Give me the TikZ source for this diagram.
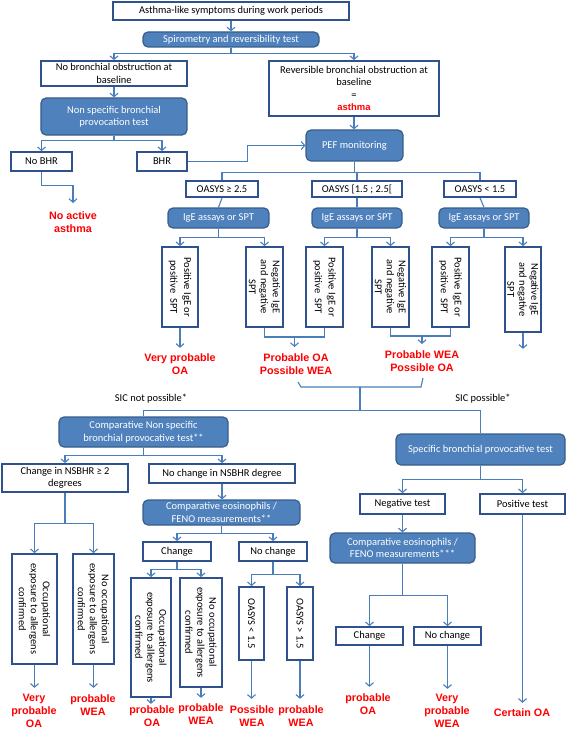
\documentclass[tikz,border=0pt]{standalone}
\usepackage{fontspec}
\setmainfont{Carlito}
\newfontfamily\labfont{Liberation Sans}
\usetikzlibrary{arrows.meta}
\definecolor{boxc}{HTML}{2F528F}
\definecolor{bline}{HTML}{385D8A}
\definecolor{bfill}{HTML}{4F81BD}
\definecolor{cline}{HTML}{4A7EBB}
\definecolor{lred}{HTML}{FF0000}
\begin{document}
\begin{tikzpicture}[x=1bp,y=-1bp,
 wbox/.style={draw=boxc, line width=1.7bp, fill=white, inner sep=0pt, align=center, font=\fontsize{10.5}{12.5}\selectfont},
 bbox/.style={draw=bline, line width=1.2bp, fill=bfill, rounded corners=5bp, inner sep=0pt, align=center, text=white, font=\fontsize{10.5}{12.5}\selectfont},
 vbox/.style={wbox, rotate=-90, font=\fontsize{10.5}{12}\selectfont},
 pvbox/.style={wbox, rotate=-90, font=\fontsize{10.5}{14}\selectfont},
 lbl/.style={inner sep=0pt, align=center, text=lred, font=\labfont\bfseries\fontsize{10.8}{13}\selectfont},
 plain/.style={inner sep=0pt, font=\fontsize{10.5}{12.5}\selectfont},
 conn/.style={draw=cline, line width=1.1bp},
 arr/.style={conn, -{Straight Barb[length=3.5bp,width=8bp]}}
]
\useasboundingbox (0,0) rectangle (567,730);

% top part
\node[wbox,minimum width=236bp,minimum height=18bp] (n1) at (231,11) {Asthma-like symptoms during work periods};
\node[bbox,minimum width=176bp,minimum height=15bp] (n2) at (231,39.5) {Spirometry and reversibility test};
\node[wbox,minimum width=146bp,minimum height=25bp] (n3) at (114,73.5) {No bronchial obstruction at\\baseline};
\node[wbox,minimum width=170bp,minimum height=55bp] (n4) at (354,88.5) {Reversible bronchial obstruction at\\baseline\\=\\{\color{lred}\labfont\bfseries\fontsize{9.5}{12.5}\selectfont asthma}};
\node[bbox,minimum width=146bp,minimum height=37bp] (n5) at (114,116.5) {Non specific bronchial\\provocation test};
\node[bbox,minimum width=97bp,minimum height=31bp] (pef) at (354.5,145.5) {PEF monitoring};
\node[wbox,minimum width=61bp,minimum height=19bp] (nobhr) at (41.5,161.5) {No BHR};
\node[wbox,minimum width=50bp,minimum height=19bp] (bhr) at (162,161.5) {BHR};
\node[lbl] (noact) at (73,222) {No active\\asthma};
\coordinate (noactin) at (73,203);

\node[wbox,minimum width=72bp,minimum height=16bp] (o1) at (222,189) {OASYS ≥ 2.5};
\node[wbox,minimum width=90bp,minimum height=16bp] (o2) at (357,189) {OASYS [1.5 ; 2.5[};
\node[wbox,minimum width=72bp,minimum height=16bp] (o3) at (480,189) {OASYS < 1.5};
\node[bbox,minimum width=101bp,minimum height=20bp] (i1) at (218.5,218) {IgE assays or SPT};
\node[bbox,minimum width=90bp,minimum height=20bp] (i2) at (357,218) {IgE assays or SPT};
\node[bbox,minimum width=90bp,minimum height=20bp] (i3) at (484,218) {IgE assays or SPT};

\node[pvbox,minimum width=80bp,minimum height=36bp] (vA) at (180,287) {Positive IgE or\\positive\ \ SPT};
\node[vbox,minimum width=80bp,minimum height=37bp] (vB) at (264.5,287) {Negative IgE\\and negative\\SPT};
\node[pvbox,minimum width=80bp,minimum height=37bp] (vC) at (324.5,287) {Positive IgE or\\positive\ \ SPT};
\node[vbox,minimum width=80bp,minimum height=37bp] (vD) at (390.5,287) {Negative IgE\\and negative\\SPT};
\node[pvbox,minimum width=80bp,minimum height=37bp] (vE) at (450.5,287) {Positive IgE or\\positive\ \ SPT};
\node[vbox,minimum width=85bp,minimum height=36bp] (vF) at (523,289.5) {Negative IgE\\and negative\\SPT};

\node[lbl] (lA) at (180,364.5) {Very probable\\OA};
\node[lbl] (lBC) at (296,364.5) {Probable OA\\Possible WEA};
\node[lbl] (lDE) at (422,361) {Probable WEA\\Possible OA};
\coordinate (bc) at (294.5,337);
\coordinate (de) at (422,336);
\coordinate (brm) at (360,387);

\node[plain] (sicn) at (151,399) {SIC not possible*};
\node[plain] (sicp) at (483,399) {SIC possible*};

% lower part
\node[bbox,minimum width=169bp,minimum height=30bp] (c1) at (143.5,432) {Comparative Non specific\\bronchial provocative test**};
\node[wbox,minimum width=126bp,minimum height=28bp] (ch1) at (65,478) {Change in NSBHR ≥ 2\\degrees};
\node[wbox,minimum width=146bp,minimum height=19bp] (nch1) at (222,473.5) {No change in NSBHR degree};
\node[bbox,minimum width=169bp,minimum height=31bp] (spec) at (480.5,449.5) {Specific bronchial provocative test};
\node[wbox,minimum width=85bp,minimum height=20bp] (neg) at (402.5,504) {Negative test};
\node[wbox,minimum width=85bp,minimum height=20bp] (pos) at (522.5,504) {Positive test};
\node[bbox,minimum width=157bp,minimum height=25bp] (ce1) at (221.5,512.5) {Comparative eosinophils /\\FENO measurements**};
\node[wbox,minimum width=68bp,minimum height=19bp] (ch2) at (177,551.5) {Change};
\node[wbox,minimum width=68bp,minimum height=19bp] (nch2) at (273,551.5) {No change};
\node[vbox,minimum width=110bp,minimum height=45bp] (occ1) at (34.5,609) {Occupational\\exposure to allergens\\confirmed};
\node[vbox,minimum width=110bp,minimum height=41bp] (nocc1) at (93.5,609) {No occupational\\exposure to allergens\\confirmed};
\node[vbox,minimum width=119bp,minimum height=40bp] (occ2) at (151,637.5) {Occupational\\exposure to allergens\\confirmed};
\node[vbox,minimum width=109bp,minimum height=42bp] (nocc2) at (201,632.5) {No occupational\\exposure to allergens\\confirmed};
\node[vbox,minimum width=73bp,minimum height=25bp] (oa1) at (251.5,623.5) {OASYS < 1.5};
\node[vbox,minimum width=73bp,minimum height=26bp] (oa2) at (300,623.5) {OASYS > 1.5};
\node[bbox,minimum width=145bp,minimum height=30bp] (ce2) at (402.5,548) {Comparative eosinophils /\\FENO measurements***};
\node[wbox,minimum width=67bp,minimum height=18bp] (ch3) at (369.5,636) {Change};
\node[wbox,minimum width=67bp,minimum height=18bp] (nch3) at (447.5,636) {No change};

\node[lbl] (l1) at (34,710.5) {Very\\probable\\OA};
\node[lbl] (l2) at (93,705.5) {probable\\WEA};
\node[lbl] (l3) at (152,716) {probable\\OA};
\node[lbl] (l4) at (201,714) {probable\\WEA};
\node[lbl] (l5) at (252,716) {Possible\\WEA};
\node[lbl] (l6) at (301,716) {probable\\WEA};
\node[lbl] (l7) at (368,704.5) {probable\\OA};
\node[lbl] (l8) at (447,710.5) {Very\\probable\\WEA};
\node[lbl] (l9) at (522,713) {Certain OA};

% connectors
\draw[arr] (n1.south) -- (n2.north);
\draw[arr] (n2.south) -- ++(0,6) -| (n3.north);
\draw[arr] (n2.south) -- ++(0,6) -| (n4.north);
\draw[arr] (n3.south) -- (n5.north);
\draw[arr] (n4.south) -- (n4.south |- pef.north);
\draw[arr] (n5.south) -- ++(0,5) -| (nobhr.north);
\draw[arr] (n5.south) -- ++(0,5) -| (bhr.north);
\draw[arr] (bhr.east) -- ++(60,0) |- (pef.west);
\draw[arr] (nobhr.south) -- ++(0,14) -| (noactin);
\draw[conn] (pef.south) -- ++(0,10.5) -| (o1.north);
\draw[conn] (pef.south) -- ++(0,10.5) -| (o2.north);
\draw[conn] (pef.south) -- ++(0,10.5) -| (o3.north);
\draw[conn] (o1.south) -- (i1.north);
\draw[conn] (o2.south) -- (i2.north);
\draw[conn] (o3.south) -- (i3.north);
\draw[arr] (i1.south) -- ++(0,9) -| (vA.west);
\draw[arr] (i1.south) -- ++(0,9) -| (vB.west);
\draw[arr] (i2.south) -- ++(0,9) -| (vC.west);
\draw[arr] (i2.south) -- ++(0,9) -| (vD.west);
\draw[arr] (i3.south) -- ++(0,9) -| (vE.west);
\draw[arr] (i3.south) -- ++(0,9) -| (vF.west);
\draw[arr] (vA.east) -- ++(0,20);
\draw[conn] (vB.east) |- (bc) -| (vC.east);
\draw[arr] (bc) -- ++(0,10);
\draw[conn] (vD.east) |- (de) -| (vE.east);
\draw[arr] (de) -- ++(0,8);
\draw[arr] (vF.east) -- ++(0,16);
\draw[conn] (298,382) -- (301,387) -- (421,387) -- (423,378);
\draw[conn] (brm) -- ++(0,24);
\draw[conn] (c1.north) -- ++(0,-6) -| (spec.north);
\draw[arr] (c1.south) -- ++(0,8) -| (ch1.north);
\draw[arr] (c1.south) -- ++(0,8) -| (nch1.north);
\draw[arr] (spec.south) -- ++(0,14) -| (neg.north);
\draw[arr] (spec.south) -- ++(0,14) -| (pos.north);
\draw[arr] (ch1.south) -- ++(0,31) -| (occ1.west);
\draw[arr] (ch1.south) -- ++(0,31) -| (nocc1.west);
\draw[arr] (nch1.south) -- (nch1.south |- ce1.north);
\draw[arr] (ce1.south) -- ++(0,8) -| (ch2.north);
\draw[arr] (ce1.south) -- ++(0,8) -| (nch2.north);
\draw[arr] (ch2.south) -- ++(0,8) -| (occ2.west);
\draw[arr] (ch2.south) -- ++(0,8) -| (nocc2.west);
\draw[arr] (nch2.south) -- ++(0,13) -| (oa1.west);
\draw[arr] (nch2.south) -- ++(0,13) -| (oa2.west);
\draw[arr] (occ1.east) -- ++(0,23);
\draw[arr] (nocc1.east) -- ++(0,23);
\draw[arr] (occ2.east) -- ++(0,6);
\draw[arr] (nocc2.east) -- ++(0,10);
\draw[arr] (oa1.east) -- ++(0,38);
\draw[arr] (oa2.east) -- ++(0,38);
\draw[arr] (neg.south) -- (ce2.north);
\draw[arr] (ce2.south) -- ++(0,32) -| (ch3.north);
\draw[arr] (ce2.south) -- ++(0,32) -| (nch3.north);
\draw[arr] (ch3.south) -- ++(0,41);
\draw[arr] (nch3.south) -- ++(0,43);
\draw[arr] (pos.south) -- ++(0,188);
\end{tikzpicture}
\end{document}
